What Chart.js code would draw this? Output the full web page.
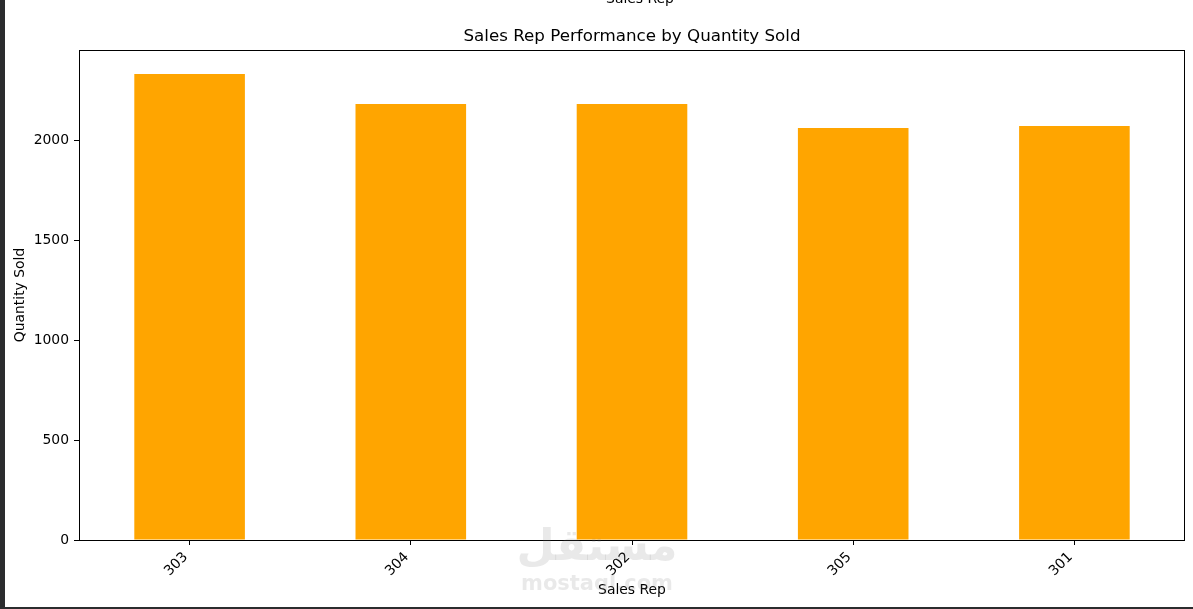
<!DOCTYPE html>
<html lang="en">
<head>
<meta charset="UTF-8">
<title>Sales Rep Performance by Quantity Sold</title>
<script src="https://cdn.jsdelivr.net/npm/chart.js@4.4.1/dist/chart.umd.min.js"></script>
<style>
    html, body { margin: 0; padding: 0; background: #fff; }
    #wrap { position: relative; width: 1193px; height: 609px; overflow: hidden; }
    #strip { position: absolute; left: 0; top: 0; width: 5px; height: 609px; background: #2b2c2e; }
    #bottomLine { position: absolute; left: 0; bottom: 0; width: 1193px; height: 2px; background: #2b2c2e; }
</style>
</head>
<body>
<div id="wrap">
    <canvas id="salesChart" width="1193" height="609"></canvas>
    <div id="strip"></div>
    <div id="bottomLine"></div>
</div>
<script>
const reps = ['303', '304', '302', '305', '301'];
const quantities = [2330, 2180, 2180, 2060, 2070];
const yTicks = [0, 500, 1000, 1500, 2000];

const FONT = 'DejaVu Sans';
const chartTitle = 'Sales Rep Performance by Quantity Sold';

// marco del área de trazado, título centrado sobre el área y textos sueltos
const framePlugin = {
    id: 'frame',
    afterDraw(chart) {
        const { ctx, chartArea: a } = chart;
        ctx.save();
        ctx.strokeStyle = '#000';
        ctx.lineWidth = 1;
        ctx.strokeRect(Math.round(a.left) + 0.5, Math.round(a.top) + 0.5,
            Math.round(a.right - a.left) - 1, Math.round(a.bottom - a.top));

        ctx.fillStyle = '#000';
        ctx.textAlign = 'center';
        ctx.textBaseline = 'middle';
        ctx.font = '16.7px "' + FONT + '"';
        ctx.fillText(chartTitle, (a.left + a.right) / 2, 36.5);

        // título recortado arriba
        ctx.font = '13.9px "' + FONT + '"';
        ctx.textBaseline = 'alphabetic';
        ctx.fillText('Sales Rep', 640, 3);

        // marca de agua
        ctx.fillStyle = 'rgba(120,120,120,0.16)';
        ctx.font = 'bold 44px "' + FONT + '"';
        ctx.textBaseline = 'middle';
        ctx.fillText('مستقل', 597, 549);
        ctx.font = 'bold 21px "' + FONT + '"';
        ctx.fillText('mostaql.com', 597, 585);
        ctx.restore();
    }
};

new Chart(document.getElementById('salesChart'), {
    type: 'bar',
    data: {
        labels: reps,
        datasets: [{
            label: 'Quantity Sold',
            data: quantities,
            backgroundColor: '#FFA500',
            borderWidth: 0,
            barPercentage: 0.5,
            categoryPercentage: 1.0
        }]
    },
    options: {
        responsive: false,
        animation: false,
        layout: { padding: { left: 0, right: 8, top: 50, bottom: 0 } },
        plugins: {
            legend: { display: false },
            tooltip: { enabled: false },
            title: { display: false }
        },
        scales: {
            x: {
                afterFit(scale) { scale.height = 69; },
                grid: { display: true, drawOnChartArea: false, offset: false, color: '#000', tickLength: 5 },
                border: { display: false },
                ticks: {
                    color: '#000',
                    font: { family: FONT, size: 13.9 },
                    minRotation: 45,
                    maxRotation: 45,
                    padding: 4,
                    labelOffset: -4
                },
                title: {
                    display: true,
                    text: 'Sales Rep',
                    color: '#000',
                    font: { family: FONT, size: 13.9 },
                    padding: { top: 0, bottom: 10 }
                }
            },
            y: {
                min: 0,
                max: 2450,
                afterFit(scale) { scale.width = 79; },
                afterBuildTicks(scale) { scale.ticks = yTicks.map(v => ({ value: v })); },
                grid: { display: true, drawOnChartArea: false, color: '#000', tickLength: 5 },
                border: { display: false },
                ticks: {
                    color: '#000',
                    font: { family: FONT, size: 13.9 },
                    padding: 5,
                    callback: v => String(v)
                },
                title: {
                    display: true,
                    text: 'Quantity Sold',
                    color: '#000',
                    font: { family: FONT, size: 13.9 },
                    padding: { top: 12, bottom: 0 }
                }
            }
        }
    },
    plugins: [framePlugin]
});
</script>
</body>
</html>
